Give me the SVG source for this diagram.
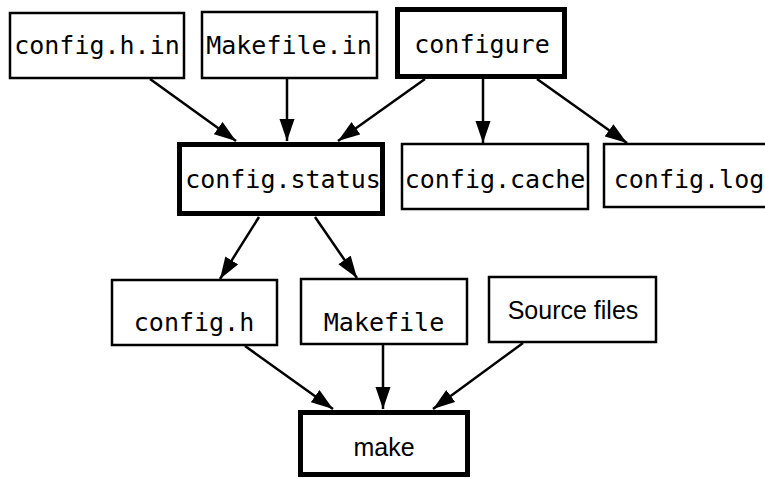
<svg xmlns="http://www.w3.org/2000/svg" width="765" height="479" viewBox="0 0 765 479">
<style>
  .box { fill: #fff; stroke: #000; stroke-width: 2.5; }
  .thick { fill: #fff; stroke: #000; stroke-width: 5; }
  .mono { font-family: "DejaVu Sans Mono", "Liberation Mono", monospace; font-size: 25px; fill: #000; text-anchor: middle; }
  .sans { font-family: "Liberation Sans", Arial, sans-serif; font-size: 25px; fill: #000; text-anchor: middle; }
  .edge { stroke: #000; stroke-width: 2.5; fill: none; marker-end: url(#arr); }
</style>
<defs>
  <marker id="arr" markerUnits="userSpaceOnUse" markerWidth="24" markerHeight="16" refX="22" refY="7.5" orient="auto">
    <path d="M0,0 L22,7.5 L0,15 z" fill="#000"/>
  </marker>
</defs>
<rect width="765" height="479" fill="#fff"/>
<g id="connectors">
  <line class="edge" x1="150" y1="79" x2="236" y2="141"/>
  <line class="edge" x1="287" y1="79" x2="287" y2="141"/>
  <line class="edge" x1="425" y1="79" x2="338" y2="141"/>
  <line class="edge" x1="483" y1="79" x2="483" y2="143"/>
  <line class="edge" x1="537" y1="79" x2="627" y2="143"/>
  <line class="edge" x1="259" y1="217" x2="220" y2="279"/>
  <line class="edge" x1="315" y1="217" x2="357" y2="278"/>
  <line class="edge" x1="245" y1="346" x2="333" y2="409"/>
  <line class="edge" x1="383" y1="345" x2="383" y2="409"/>
  <line class="edge" x1="523" y1="343" x2="433" y2="409"/>
</g>
<g id="config_h_in">
  <rect class="box" x="10" y="13" width="174" height="65"/>
  <text class="mono" x="97" y="54">config.h.in</text>
</g>
<g id="makefile_in">
  <rect class="box" x="202" y="12" width="175" height="66"/>
  <text class="mono" x="289" y="54">Makefile.in</text>
</g>
<g id="configure">
  <rect class="thick" x="397.5" y="9.5" width="167" height="67"/>
  <text class="mono" x="482" y="53">configure</text>
</g>
<g id="config_status">
  <rect class="thick" x="179.5" y="144.5" width="203" height="69"/>
  <text class="mono" x="283" y="188">config.status</text>
</g>
<g id="config_cache">
  <rect class="box" x="402" y="144" width="186" height="65"/>
  <text class="mono" x="495" y="188">config.cache</text>
</g>
<g id="config_log">
  <rect class="box" x="604" y="144" width="170" height="63"/>
  <text class="mono" x="689" y="188">config.log</text>
</g>
<g id="config_h">
  <rect class="box" x="112" y="280" width="165" height="65"/>
  <text class="mono" x="194" y="331">config.h</text>
</g>
<g id="makefile">
  <rect class="box" x="301" y="279" width="166" height="65"/>
  <text class="mono" x="384" y="331">Makefile</text>
</g>
<g id="source_files">
  <rect class="box" x="489" y="277" width="167" height="65"/>
  <text class="sans" x="573" y="319">Source files</text>
</g>
<g id="make">
  <rect class="thick" x="300.5" y="412.5" width="167" height="62"/>
  <text class="sans" x="384" y="456" font-size="26">make</text>
</g>
</svg>
